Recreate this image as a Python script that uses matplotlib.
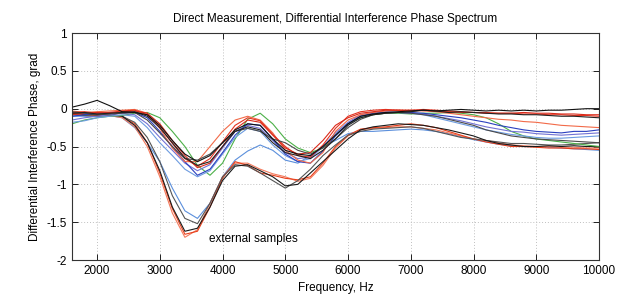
import numpy as np
from matplotlib import pyplot as plt

plt.rcParams['font.family'] = ['Liberation Sans', 'DejaVu Sans']

freq = list(range(1600, 10001, 200))

# 浅凹陷曲线 (internal)
a1_black = [0.02, 0.06, 0.11, 0.04, -0.04, -0.05, -0.08, -0.22, -0.42, -0.60, -0.70, -0.62, -0.45, -0.28, -0.20,
            -0.22, -0.40, -0.55, -0.60, -0.62, -0.50, -0.35, -0.20, -0.10, -0.07, -0.05, -0.04, -0.03, -0.02, -0.03,
            -0.02, -0.01, -0.02, -0.03, -0.02, -0.03, -0.02, -0.03, -0.02, -0.02, -0.01, 0.00, 0.00]
a2_black = [-0.06, -0.05, -0.07, -0.06, -0.05, -0.04, -0.10, -0.25, -0.45, -0.65, -0.75, -0.70, -0.50, -0.30, -0.24,
            -0.28, -0.45, -0.58, -0.62, -0.66, -0.55, -0.40, -0.22, -0.12, -0.08, -0.06, -0.05, -0.04, -0.02, -0.03,
            -0.05, -0.04, -0.05, -0.06, -0.07, -0.07, -0.08, -0.08, -0.09, -0.10, -0.10, -0.11, -0.12]
a3_red = [-0.08, -0.06, -0.05, -0.06, -0.04, -0.03, -0.06, -0.20, -0.42, -0.62, -0.78, -0.72, -0.50, -0.27, -0.15,
          -0.18, -0.35, -0.52, -0.60, -0.58, -0.42, -0.22, -0.12, -0.06, -0.04, -0.02, -0.02, -0.03, -0.02, -0.03,
          -0.04, -0.05, -0.05, -0.06, -0.06, -0.06, -0.05, -0.06, -0.06, -0.07, -0.07, -0.08, -0.08]
a4_orange = [-0.03, -0.05, -0.04, -0.03, -0.02, -0.01, -0.06, -0.26, -0.52, -0.70, -0.70, -0.50, -0.30, -0.15, -0.10,
             -0.15, -0.32, -0.55, -0.68, -0.72, -0.58, -0.30, -0.15, -0.08, -0.05, -0.03, -0.02, -0.02, -0.03, -0.04,
             -0.06, -0.08, -0.10, -0.12, -0.14, -0.15, -0.17, -0.18, -0.20, -0.22, -0.23, -0.24, -0.25]
a5_blue = [-0.10, -0.08, -0.06, -0.05, -0.05, -0.05, -0.12, -0.30, -0.50, -0.70, -0.88, -0.80, -0.58, -0.35, -0.20,
           -0.22, -0.40, -0.60, -0.70, -0.72, -0.56, -0.36, -0.20, -0.10, -0.06, -0.05, -0.05, -0.05, -0.06, -0.08,
           -0.10, -0.12, -0.15, -0.18, -0.22, -0.25, -0.28, -0.30, -0.31, -0.32, -0.30, -0.30, -0.28]
a6_purple = [-0.15, -0.12, -0.10, -0.08, -0.06, -0.08, -0.20, -0.38, -0.55, -0.72, -0.82, -0.74, -0.52, -0.30, -0.22,
             -0.26, -0.42, -0.58, -0.66, -0.64, -0.50, -0.32, -0.18, -0.08, -0.05, -0.04, -0.05, -0.06, -0.07, -0.10,
             -0.13, -0.16, -0.20, -0.24, -0.27, -0.30, -0.31, -0.33, -0.34, -0.35, -0.34, -0.33, -0.32]
a7_lightblue = [-0.18, -0.16, -0.12, -0.10, -0.08, -0.10, -0.25, -0.45, -0.62, -0.80, -0.90, -0.82, -0.60, -0.38, -0.26,
                -0.30, -0.48, -0.62, -0.70, -0.66, -0.50, -0.34, -0.20, -0.10, -0.06, -0.05, -0.05, -0.06, -0.08, -0.12,
                -0.16, -0.20, -0.24, -0.28, -0.31, -0.34, -0.36, -0.38, -0.39, -0.39, -0.38, -0.37, -0.36]
a8_green = [-0.20, -0.15, -0.12, -0.10, -0.09, -0.06, -0.05, -0.12, -0.30, -0.50, -0.75, -0.88, -0.72, -0.40, -0.14,
            -0.06, -0.20, -0.40, -0.52, -0.58, -0.52, -0.35, -0.20, -0.12, -0.08, -0.06, -0.06, -0.07, -0.06, -0.06,
            -0.05, -0.06, -0.08, -0.12, -0.20, -0.30, -0.36, -0.40, -0.42, -0.44, -0.46, -0.48, -0.50]
a9_gray = [-0.04, -0.06, -0.08, -0.07, -0.06, -0.05, -0.15, -0.32, -0.50, -0.66, -0.68, -0.60, -0.45, -0.30, -0.26,
           -0.30, -0.40, -0.45, -0.55, -0.60, -0.52, -0.40, -0.25, -0.14, -0.08, -0.06, -0.05, -0.06, -0.08, -0.10,
           -0.14, -0.18, -0.22, -0.28, -0.32, -0.36, -0.38, -0.40, -0.41, -0.42, -0.43, -0.44, -0.45]
a10_red = [-0.05, -0.04, -0.06, -0.05, -0.03, -0.02, -0.08, -0.24, -0.46, -0.66, -0.76, -0.66, -0.44, -0.22, -0.12,
           -0.16, -0.34, -0.50, -0.62, -0.64, -0.48, -0.26, -0.10, -0.04, -0.02, -0.01, -0.02, -0.02, -0.01, -0.02,
           -0.03, -0.04, -0.05, -0.05, -0.06, -0.06, -0.07, -0.07, -0.08, -0.08, -0.09, -0.09, -0.10]

# 深凹陷曲线 (external samples)
b1_black = [-0.05, -0.07, -0.08, -0.07, -0.10, -0.22, -0.45, -0.82, -1.30, -1.62, -1.58, -1.30, -0.95, -0.76, -0.74,
            -0.82, -0.90, -1.02, -1.00, -0.85, -0.70, -0.55, -0.40, -0.28, -0.24, -0.22, -0.20, -0.21, -0.22, -0.25,
            -0.28, -0.32, -0.36, -0.42, -0.46, -0.48, -0.50, -0.50, -0.49, -0.50, -0.49, -0.50, -0.50]
b2_gray = [-0.08, -0.09, -0.10, -0.09, -0.10, -0.18, -0.38, -0.70, -1.15, -1.45, -1.52, -1.25, -0.90, -0.74, -0.76,
           -0.85, -0.95, -1.05, -0.95, -0.80, -0.62, -0.48, -0.35, -0.30, -0.27, -0.26, -0.25, -0.24, -0.26, -0.30,
           -0.34, -0.38, -0.40, -0.42, -0.44, -0.46, -0.46, -0.47, -0.48, -0.48, -0.47, -0.46, -0.45]
b3_red = [-0.06, -0.08, -0.09, -0.08, -0.10, -0.20, -0.45, -0.85, -1.32, -1.66, -1.62, -1.30, -0.92, -0.70, -0.75,
          -0.85, -0.88, -0.92, -0.94, -0.90, -0.72, -0.50, -0.35, -0.27, -0.25, -0.24, -0.22, -0.20, -0.22, -0.25,
          -0.30, -0.35, -0.40, -0.44, -0.47, -0.50, -0.50, -0.51, -0.52, -0.52, -0.53, -0.53, -0.54]
b4_orange = [-0.07, -0.09, -0.08, -0.09, -0.12, -0.24, -0.50, -0.90, -1.38, -1.70, -1.60, -1.25, -0.90, -0.72, -0.72,
             -0.80, -0.86, -0.90, -0.96, -0.92, -0.75, -0.52, -0.36, -0.28, -0.26, -0.25, -0.24, -0.24, -0.26, -0.28,
             -0.32, -0.36, -0.40, -0.42, -0.45, -0.48, -0.49, -0.50, -0.50, -0.51, -0.51, -0.52, -0.52]
b5_lightblue = [-0.10, -0.10, -0.10, -0.09, -0.12, -0.25, -0.45, -0.70, -1.05, -1.35, -1.45, -1.25, -0.90, -0.68, -0.56,
                -0.48, -0.55, -0.68, -0.72, -0.62, -0.50, -0.42, -0.33, -0.30, -0.30, -0.29, -0.28, -0.27, -0.28, -0.30,
                -0.33, -0.37, -0.41, -0.44, -0.47, -0.49, -0.50, -0.50, -0.51, -0.52, -0.53, -0.54, -0.55]

series = [
    (b5_lightblue, '#5b8fdc'),
    (b4_orange, '#f47a5c'),
    (b3_red, '#e8401c'),
    (b2_gray, '#555555'),
    (b1_black, '#1a1a1a'),
    (a8_green, '#4cb048'),
    (a7_lightblue, '#6c9be0'),
    (a6_purple, '#7272d4'),
    (a5_blue, '#2a3fbf'),
    (a4_orange, '#f26a48'),
    (a10_red, '#e43220'),
    (a3_red, '#d92a1a'),
    (a9_gray, '#4a4a4a'),
    (a2_black, '#222222'),
    (a1_black, '#111111'),
]


def main():
    fig = plt.figure(figsize=(6.28, 3.03), dpi=100)
    ax = fig.add_axes([0.1146, 0.1419, 0.8392, 0.7491])
    for y, c in series:
        ax.plot(freq, y, color=c, linewidth=0.8)

    ax.set_xlim(1600, 10000)
    ax.set_ylim(-2, 1)
    ax.set_xticks(np.arange(2000, 10001, 1000))
    ax.set_yticks([-2, -1.5, -1, -0.5, 0, 0.5, 1])
    ax.set_yticklabels(['-2', '-1.5', '-1', '-0.5', '0', '0.5', '1'])
    ax.tick_params(direction='in', top=True, right=True, labelsize=8.5, length=4, width=0.6)
    ax.grid(True, linestyle=(0, (1, 2)), color='#c0c0c0', linewidth=0.7)
    for s in ax.spines.values():
        s.set_linewidth(0.8)
        s.set_color('#333333')

    ax.text(3780, -1.72, 'external samples', fontsize=8.5, va='center', ha='left')
    ax.set_title('Direct Measurement, Differential Interference Phase Spectrum', fontsize=8.5, pad=8)
    ax.set_xlabel('Frequency, Hz', fontsize=8.5)
    ax.set_ylabel('Differential Interference Phase, grad', fontsize=8.5)

    plt.savefig('out.png', dpi=100)


if __name__ == '__main__':
    main()
